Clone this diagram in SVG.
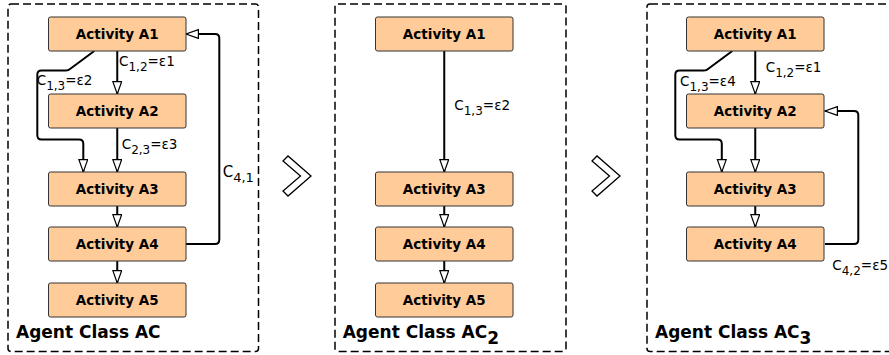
<svg xmlns="http://www.w3.org/2000/svg" width="889" height="355" viewBox="0 0 889 355">
<defs>
<marker id="arr" markerUnits="userSpaceOnUse" markerWidth="16" markerHeight="14" refX="13" refY="5" orient="auto">
<path d="M0.6,0.6 L13,5 L0.6,9.4 Z" fill="#fff" stroke="#000" stroke-width="1.2" stroke-linejoin="miter"/>
</marker>
</defs>
<style>
.panel{fill:none;stroke:#000;stroke-width:1.5;stroke-dasharray:8,4}
.box{fill:#FFCC99;stroke:#333;stroke-width:1}
.bt{font-family:"DejaVu Sans",sans-serif;font-weight:bold;font-size:13.5px;text-anchor:middle;fill:#000}
.lbl{font-family:"DejaVu Sans",sans-serif;font-size:13.5px;fill:#000}
.sub{font-size:12px}
.title{font-family:"DejaVu Sans",sans-serif;font-weight:bold;font-size:17px;fill:#000}
.con{fill:none;stroke:#000;stroke-width:2;stroke-linejoin:round}
.chev{fill:#fff;stroke:#000;stroke-width:1.3;stroke-linejoin:miter}
</style>

<!-- panels -->
<rect class="panel" x="8" y="4" width="250.5" height="347.5" rx="3"/>
<rect class="panel" x="335" y="4" width="231" height="347.5" rx="3"/>
<rect class="panel" x="647" y="4" width="252" height="347.5" rx="3"/>

<polygon class="chev" points="283,161 288,156 311,176 288,196 283,191 300.5,176"/>
<polygon class="chev" points="592,161 597,156 620,176 597,196 592,191 609.5,176"/>

<!-- connectors -->
<g id="connectors">
<!-- panel 1 -->
<line class="con" x1="117.25" y1="51" x2="117.25" y2="94" marker-end="url(#arr)"/>
<line class="con" x1="117.25" y1="128" x2="117.25" y2="172" marker-end="url(#arr)"/>
<line class="con" x1="117.25" y1="206" x2="117.25" y2="227" marker-end="url(#arr)"/>
<line class="con" x1="117.25" y1="261" x2="117.25" y2="283" marker-end="url(#arr)"/>
<path class="con" d="M94.3,51 L70,69 Q68.5,70.5 66,70.5 L41.5,70.5 Q37.3,70.5 37.3,74.7 L37.3,135 Q37.3,139.5 41.5,139.5 L79,139.5 Q83.3,139.5 83.3,143.7 L83.3,172" marker-end="url(#arr)"/>
<path class="con" d="M186,244 L215,244 Q219.3,244 219.3,239.8 L219.3,38.2 Q219.3,34 215,34 L186,34" marker-end="url(#arr)"/>
<!-- panel 2 -->
<line class="con" x1="444.25" y1="51" x2="444.25" y2="172" marker-end="url(#arr)"/>
<line class="con" x1="444.25" y1="206" x2="444.25" y2="227" marker-end="url(#arr)"/>
<line class="con" x1="444.25" y1="261" x2="444.25" y2="283" marker-end="url(#arr)"/>
<!-- panel 3 -->
<line class="con" x1="755.25" y1="51" x2="755.25" y2="94" marker-end="url(#arr)"/>
<line class="con" x1="755.25" y1="128" x2="755.25" y2="172" marker-end="url(#arr)"/>
<line class="con" x1="755.25" y1="206" x2="755.25" y2="227" marker-end="url(#arr)"/>
<path class="con" d="M732.3,51 L708,69 Q706.5,70.5 704,70.5 L679.5,70.5 Q675.3,70.5 675.3,74.7 L675.3,135 Q675.3,139.5 679.5,139.5 L717.5,139.5 Q721.8,139.5 721.8,143.7 L721.8,172" marker-end="url(#arr)"/>
<path class="con" d="M825,244 L854,244 Q858.3,244 858.3,239.8 L858.3,115.2 Q858.3,111 854,111 L825,111" marker-end="url(#arr)"/>
</g>

<!-- connector labels -->
<text class="lbl" x="119" y="65.5">C<tspan class="sub" dy="5">1,2</tspan><tspan dy="-5">=ε1</tspan></text>
<text class="lbl" x="36.7" y="84.5">C<tspan class="sub" dy="5">1,3</tspan><tspan dy="-5">=ε2</tspan></text>
<text class="lbl" x="121.7" y="149">C<tspan class="sub" dy="5">2,3</tspan><tspan dy="-5">=ε3</tspan></text>
<text class="lbl" x="222.7" y="176.5" style="font-size:15px">C<tspan style="font-size:13px" dy="5">4,1</tspan></text>
<text class="lbl" x="454.3" y="110">C<tspan class="sub" dy="5">1,3</tspan><tspan dy="-5">=ε2</tspan></text>
<text class="lbl" x="765.7" y="72">C<tspan class="sub" dy="5">1,2</tspan><tspan dy="-5">=ε1</tspan></text>
<text class="lbl" x="680" y="85.5">C<tspan class="sub" dy="5">1,3</tspan><tspan dy="-5">=ε4</tspan></text>
<text class="lbl" x="832.3" y="269.5">C<tspan class="sub" dy="5">4,2</tspan><tspan dy="-5">=ε5</tspan></text>

<!-- panel 1 nodes -->
<g id="p1-a1"><rect class="box" x="48.5" y="17" width="137.5" height="34" rx="2"/><text class="bt" x="117.25" y="39.3">Activity A1</text></g>
<g id="p1-a2"><rect class="box" x="48.5" y="94" width="137.5" height="34" rx="2"/><text class="bt" x="117.25" y="116.3">Activity A2</text></g>
<g id="p1-a3"><rect class="box" x="48.5" y="172" width="137.5" height="34" rx="2"/><text class="bt" x="117.25" y="194.3">Activity A3</text></g>
<g id="p1-a4"><rect class="box" x="48.5" y="227" width="137.5" height="34" rx="2"/><text class="bt" x="117.25" y="249.3">Activity A4</text></g>
<g id="p1-a5"><rect class="box" x="48.5" y="283" width="137.5" height="34" rx="2"/><text class="bt" x="117.25" y="305.3">Activity A5</text></g>
<g id="p1-title"><text class="title" x="16" y="338.3">Agent Class AC</text></g>

<!-- panel 2 nodes -->
<g id="p2-a1"><rect class="box" x="375.5" y="17" width="137.5" height="34" rx="2"/><text class="bt" x="444.25" y="39.3">Activity A1</text></g>
<g id="p2-a3"><rect class="box" x="375.5" y="172" width="137.5" height="34" rx="2"/><text class="bt" x="444.25" y="194.3">Activity A3</text></g>
<g id="p2-a4"><rect class="box" x="375.5" y="227" width="137.5" height="34" rx="2"/><text class="bt" x="444.25" y="249.3">Activity A4</text></g>
<g id="p2-a5"><rect class="box" x="375.5" y="283" width="137.5" height="34" rx="2"/><text class="bt" x="444.25" y="305.3">Activity A5</text></g>
<g id="p2-title"><text class="title" x="342.7" y="338.3">Agent Class AC<tspan dy="6">2</tspan></text></g>

<!-- panel 3 nodes -->
<g id="p3-a1"><rect class="box" x="686.5" y="17" width="137.5" height="34" rx="2"/><text class="bt" x="755.25" y="39.3">Activity A1</text></g>
<g id="p3-a2"><rect class="box" x="686.5" y="94" width="137.5" height="34" rx="2"/><text class="bt" x="755.25" y="116.3">Activity A2</text></g>
<g id="p3-a3"><rect class="box" x="686.5" y="172" width="137.5" height="34" rx="2"/><text class="bt" x="755.25" y="194.3">Activity A3</text></g>
<g id="p3-a4"><rect class="box" x="686.5" y="227" width="137.5" height="34" rx="2"/><text class="bt" x="755.25" y="249.3">Activity A4</text></g>
<g id="p3-title"><text class="title" x="655" y="338.3">Agent Class AC<tspan dy="6">3</tspan></text></g>
</svg>
